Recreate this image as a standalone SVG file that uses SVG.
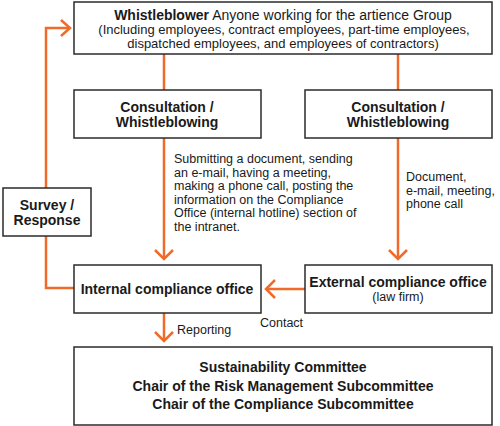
<svg xmlns="http://www.w3.org/2000/svg" width="500" height="426" viewBox="0 0 500 426">
<style>
.box{fill:#fff;stroke:#2b2b2b;stroke-width:1.5}
.ln{fill:none;stroke:#F06B2A;stroke-width:2.5}
.ah{fill:none;stroke:#F06B2A;stroke-width:2.5;stroke-linejoin:miter}
text{font-family:"Liberation Sans",Arial,sans-serif;fill:#1a1a1a}
.b{font-weight:bold}
.t13{font-size:13px}
.t14{font-size:14px}
.t12{font-size:12.5px}
.c{text-anchor:middle}
</style>
<rect width="500" height="426" fill="#fff"/>
<g id="connectors">
<path class="ln" d="M164,54 V90"/>
<path class="ln" d="M398,54 V90"/>
<path class="ln" d="M164,138 V258"/>
<path class="ah" d="M155,250 L164,259 L173,250"/>
<path class="ln" d="M398,138 V258"/>
<path class="ah" d="M389,250 L398,259 L407,250"/>
<path class="ln" d="M305,289 H267"/>
<path class="ah" d="M275,280 L266,289 L275,298"/>
<path class="ln" d="M164,313 V340"/>
<path class="ah" d="M155,332 L164,341 L173,332"/>
<path class="ln" d="M74,288 H46 V28 H69"/>
<path class="ah" d="M61,20 L70,28 L61,36"/>
<text class="t12" x="260" y="327" font-size="12">Contact</text>
<text class="t12" x="177" y="334">Reporting</text>
</g>
<g id="whistleblower">
<rect class="box" x="74" y="2" width="418" height="52"/>
<text class="t14 c" x="283" y="20"><tspan class="b">Whistleblower</tspan> Anyone working for the artience Group</text>
<text class="t13 c" x="284" y="34">(Including employees, contract employees, part-time employees,</text>
<text class="t13 c" x="283" y="47.5">dispatched employees, and employees of contractors)</text>
</g>
<g id="consult-left">
<rect class="box" x="74" y="90" width="187" height="48"/>
<text class="t14 b c" x="167" y="112">Consultation /</text>
<text class="t14 b c" x="167" y="127">Whistleblowing</text>
</g>
<g id="consult-right">
<rect class="box" x="305" y="90" width="187" height="48"/>
<text class="t14 b c" x="398" y="112">Consultation /</text>
<text class="t14 b c" x="398" y="127">Whistleblowing</text>
</g>
<g id="desc-left">
<text class="t12" x="174" y="163">Submitting a document, sending</text>
<text class="t12" x="174" y="176.5">an e-mail, having a meeting,</text>
<text class="t12" x="174" y="190">making a phone call, posting the</text>
<text class="t12" x="174" y="203.5">information on the Compliance</text>
<text class="t12" x="174" y="217">Office (internal hotline) section of</text>
<text class="t12" x="174" y="230.5">the intranet.</text>
</g>
<g id="desc-right">
<text class="t12" x="406" y="181">Document,</text>
<text class="t12" x="406" y="194.5">e-mail, meeting,</text>
<text class="t12" x="406" y="208">phone call</text>
</g>
<g id="survey">
<rect class="box" x="3" y="188" width="88" height="48"/>
<text class="t14 b c" x="47" y="210">Survey /</text>
<text class="t14 b c" x="47" y="224.5">Response</text>
</g>
<g id="internal">
<rect class="box" x="74" y="265" width="187" height="48"/>
<text class="t14 b c" x="167" y="294">Internal compliance office</text>
</g>
<g id="external">
<rect class="box" x="305" y="265" width="187" height="48"/>
<text class="t14 b c" x="398" y="287">External compliance office</text>
<text class="t12 c" x="398" y="301">(law firm)</text>
</g>
<g id="committee">
<rect class="box" x="74" y="347" width="418" height="78"/>
<text class="t14 b c" x="283" y="372">Sustainability Committee</text>
<text class="t14 b c" x="283" y="390.5">Chair of the Risk Management Subcommittee</text>
<text class="t14 b c" x="283" y="409">Chair of the Compliance Subcommittee</text>
</g>
</svg>
